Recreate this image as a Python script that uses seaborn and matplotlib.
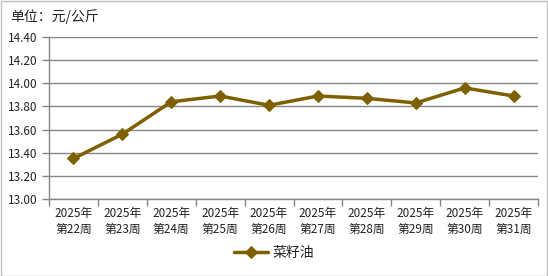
import matplotlib
matplotlib.use("Agg")
import matplotlib.pyplot as plt
import seaborn as sns
import pandas as pd
from matplotlib.patches import Rectangle

weeks = ["2025年\n第22周", "2025年\n第23周", "2025年\n第24周", "2025年\n第25周", "2025年\n第26周",
         "2025年\n第27周", "2025年\n第28周", "2025年\n第29周", "2025年\n第30周", "2025年\n第31周"]
prices = [13.35, 13.56, 13.84, 13.89, 13.81, 13.89, 13.87, 13.83, 13.96, 13.89]
series_name = "菜籽油"
yticks = [13.00, 13.20, 13.40, 13.60, 13.80, 14.00, 14.20, 14.40]

sns.set_theme(style="white")
plt.rcParams['font.family'] = ['Noto Sans CJK SC', 'DejaVu Sans']

df = pd.DataFrame({"x": list(range(len(weeks))), "price": prices, "s": series_name})

W, H = 548, 276
fig = plt.figure(figsize=(W / 100, H / 100), dpi=100)
ax = fig.add_axes([49 / W, 1 - 199 / H, (538 - 49) / W, (199 - 37) / H])

color = "#7F6000"
sns.lineplot(data=df, x="x", y="price", hue="s", palette=[color], marker="D",
             markersize=6, linewidth=2.5, markeredgecolor=color, ax=ax, legend=True)

ax.set_xlim(-0.5, len(weeks) - 0.5)
ax.set_ylim(13.0, 14.4)
ax.set_yticks(yticks)
ax.set_yticklabels([f"{v:.2f}" for v in yticks], fontsize=8.5, color="#222222")
ax.set_xticks(range(len(weeks)))
ax.set_xticklabels(weeks, fontsize=8.5, color="#222222", linespacing=1.3)
ax.set_xticks([i - 0.5 for i in range(len(weeks) + 1)], minor=True)
ax.tick_params(axis="x", which="major", length=0, pad=6)
ax.tick_params(axis="x", which="minor", length=5, width=1, color="#868686", direction="out", bottom=True)
ax.tick_params(axis="y", which="major", length=5, width=1, color="#868686", direction="out", left=True, pad=3)
ax.set_xlabel("")
ax.set_ylabel("")
ax.grid(axis="y", color="#868686", linewidth=1)
ax.set_axisbelow(True)
for s in ["top", "right"]:
    ax.spines[s].set_visible(False)
for s in ["left", "bottom"]:
    ax.spines[s].set_color("#868686")
    ax.spines[s].set_linewidth(1)

handles, labels = ax.get_legend_handles_labels()
ax.legend(handles, labels, loc="center", bbox_to_anchor=(0.5 * (W) / W, 1 - 253 / H),
          bbox_transform=fig.transFigure, frameon=False, fontsize=10, handlelength=2.5,
          handletextpad=0.3)

fig.text(10 / W, 1 - 17 / H, "单位：元/公斤", fontsize=10, va="center", ha="left", color="#222222")
fig.patches.append(Rectangle((0.5 / W, 0.5 / H), 1 - 1.5 / W, 1 - 1.5 / H, transform=fig.transFigure,
                             fill=False, edgecolor="#BFBFBF", linewidth=1))

fig.savefig("out.png", dpi=100, facecolor="white")
